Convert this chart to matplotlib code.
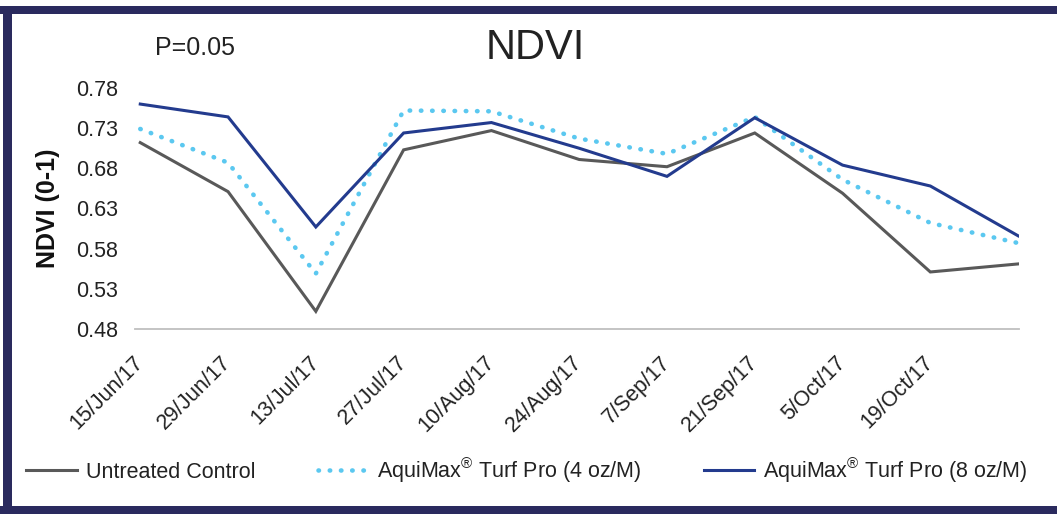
import matplotlib
matplotlib.use("Agg")
import matplotlib.pyplot as plt
from matplotlib.patches import Rectangle
from matplotlib import font_manager

names = {f.name for f in font_manager.fontManager.ttflist}
FAM = ['Liberation Sans Narrow', 'DejaVu Sans'] if 'Liberation Sans Narrow' in names else ['Liberation Sans', 'DejaVu Sans']
plt.rcParams['font.family'] = FAM
plt.rcParams['mathtext.fontset'] = 'custom'
plt.rcParams['mathtext.rm'] = FAM[0]
plt.rcParams['mathtext.it'] = FAM[0]

# ---- data ----
dates = ["15/Jun/17", "29/Jun/17", "13/Jul/17", "27/Jul/17", "10/Aug/17", "24/Aug/17",
         "7/Sep/17", "21/Sep/17", "5/Oct/17", "19/Oct/17", ""]
untreated = [0.712, 0.651, 0.502, 0.703, 0.727, 0.691, 0.682, 0.724, 0.649, 0.551, 0.561]
aqui_4oz = [0.729, 0.687, 0.549, 0.752, 0.751, 0.717, 0.698, 0.744, 0.666, 0.612, 0.587]
aqui_8oz = [0.760, 0.744, 0.607, 0.724, 0.737, 0.705, 0.670, 0.743, 0.684, 0.658, 0.596]
series_names = ["Untreated Control", r"AquiMax$^{\mathregular{®}}$ Turf Pro (4 oz/M)",
                r"AquiMax$^{\mathregular{®}}$ Turf Pro (8 oz/M)"]
yticks = [0.48, 0.53, 0.58, 0.63, 0.68, 0.73, 0.78]

W, H = 1057, 518
fig = plt.figure(figsize=(W / 100, H / 100), dpi=100)
ax = fig.add_axes([135 / W, (H - 329) / H, (1019 - 135) / W, (329 - 88) / H])

x = list(range(len(dates)))
ax.plot(x, untreated, color='#595959', lw=2.2, label=series_names[0], solid_joinstyle='miter')
ax.plot(x, aqui_4oz, color='#5bc8f0', lw=3.3, ls=(0, (0.1, 2.35)), dash_capstyle='round',
        label=series_names[1])
ax.plot(x, aqui_8oz, color='#233b8e', lw=2.2, label=series_names[2], solid_joinstyle='miter')

ax.set_xlim(-0.06, 10.01)
ax.set_ylim(0.48, 0.78)
ax.set_yticks(yticks)
ax.set_yticklabels([f"{v:.2f}" for v in yticks], fontsize=15.5, color='#222222')
ax.set_xticks(x)
ax.set_xticklabels(dates, rotation=45, ha='right', va='center', rotation_mode='anchor',
                   fontsize=15.5, color='#222222')
ax.tick_params(axis='x', length=0, pad=22)
ax.tick_params(axis='y', length=0, pad=12)
for s in ['top', 'right', 'left']:
    ax.spines[s].set_visible(False)
ax.spines['bottom'].set_color('#bfbfbf')
ax.spines['bottom'].set_linewidth(1.3)

ax.set_ylabel("NDVI (0-1)", fontsize=18, fontweight='bold', color='#111111')
ax.yaxis.set_label_coords(-75 / (1019 - 135), 0.5)

fig.text(535 / W, 1 - 48 / H, "NDVI", fontsize=30, ha='center', va='center', color='#222222')
fig.text(155 / W, 1 - 48 / H, "P=0.05", fontsize=18, ha='left', va='center', color='#222222')

leg = fig.legend(loc='center left', bbox_to_anchor=(7 / W, 1 - 470 / H), ncol=3, frameon=False,
                 fontsize=15.5, handlelength=2.35, handletextpad=0.4, columnspacing=2.9,
                 labelcolor='#222222')

# navy border
navy = '#2a2a5e'
for (x0, y0, w, h) in [(0, 6, W, 8), (0, 506, W, 8), (3, 6, 9, 508)]:
    fig.patches.append(Rectangle((x0 / W, 1 - (y0 + h) / H), w / W, h / H,
                                 transform=fig.transFigure, facecolor=navy, lw=0, zorder=10))

fig.savefig("out.png", dpi=100)
